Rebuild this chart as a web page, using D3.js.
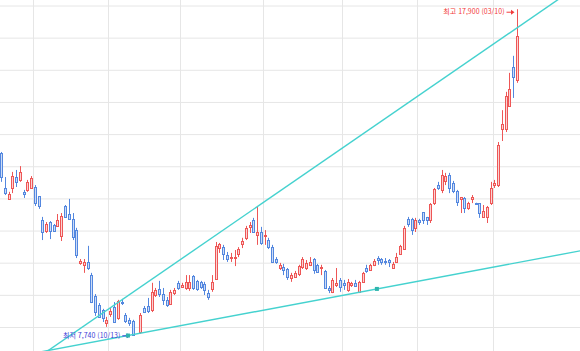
<!DOCTYPE html>
<html lang="ko">
<head>
<meta charset="UTF-8" />
<title>일봉 차트</title>
<script src="https://d3js.org/d3.v7.min.js"></script>
<style>
  body { margin: 0; background: #fff; overflow: hidden; }
  .grid line { stroke: #e6e6e6; stroke-width: 1; }
  .trend { fill: none; stroke: #45d2cf; stroke-width: 1.4; }
  .note { font-family: "Noto Sans CJK KR", "Noto Sans", sans-serif; font-size: 7px; }
</style>
</head>
<body>
<div id="chart"></div>
<script>
// daily OHLC, index 36 has no candle
const open = [13430,12340,12000,12340,12680,12590,12220,12280,12340,12370,12090,11350,11000,11280,11190,11160,10850,11780,11530,11380,
  11030,10010,9950,10040,9630,8980,8700,8550,8140,8420,8640,8300,8790,8390,8240,8200,null,7860,8610,8670,
  8550,9010,9200,9040,8860,8730,9070,9390,9260,9230,9230,9600,9450,9420,9350,9070,9200,9510,10470,10500,
  10260,10160,10160,10290,10600,10790,11130,11350,10880,10970,10850,10720,10500,10130,9850,9880,9820,9540,9570,9670,
  9880,9850,9950,10130,9950,9850,9760,9230,9110,9320,9480,9390,9170,9320,9390,9110,9420,9850,9790,9950,
  10160,10130,10070,10100,9850,10040,10290,10440,11380,11380,11100,11350,11590,11440,11350,11870,12430,12280,12560,12740,
  12500,12250,12000,12030,11720,12000,11870,11870,11440,11440,11870,12430,12430,14170,14170,14890,16100,15700];
const high = [13460,12680,12220,12840,12900,13020,12280,12590,12710,12430,12090,11440,11280,11310,11220,11530,11560,11810,12000,11560,
  11100,10130,10130,10540,9700,9040,8760,8580,8330,8610,8790,8860,8890,8450,8300,8240,null,8450,8670,8920,
  9390,9230,9450,9230,8950,9170,9230,9450,9390,9630,9630,9630,9480,9450,9420,9170,9630,10660,10630,10570,
  10350,10320,10410,10500,10790,11160,11280,11410,11760,11130,11030,10790,10570,10190,10010,9980,9850,9700,9760,9950,
  10190,10100,10190,10160,9980,9950,9790,9290,9540,9850,9540,9480,9510,9420,9480,9450,9730,9950,9980,10130,
  10220,10160,10160,10130,10040,10320,10570,11160,11440,11410,11410,11380,11590,11440,11870,12340,12530,12900,12810,12810,
  12560,12280,12060,12060,11910,12120,11880,11870,11810,11780,12530,12590,13770,14760,15330,15920,16450,17900];
const low = [12530,12120,11970,12180,12370,12530,12030,12220,12340,11780,11690,10720,10940,10750,10970,11130,10690,11410,11350,10720,
  10160,9950,9700,9790,8760,8360,8300,8170,8020,8330,8140,8240,8700,8140,8050,7740,null,7800,8450,8450,
  8480,8950,8950,8700,8640,8700,9010,9170,9230,9170,9140,9170,9140,9200,9010,8860,9110,9480,10320,10100,
  10040,10040,9910,10190,10470,10720,10940,10940,10570,10570,10570,10440,10010,9980,9790,9630,9480,9420,9540,9600,
  9820,9790,9910,9670,9700,9630,9200,9070,9070,9260,9110,9170,9110,9260,9260,9070,9390,9700,9760,9910,
  9950,9950,9950,9880,9850,10010,10260,10410,11130,10880,10970,11190,11220,11190,11250,11810,12280,12180,12430,12180,
  12180,11780,11560,11560,11660,11870,11850,11410,11410,11250,11810,12340,12370,13800,14080,14860,15140,15610];
const close = [12680,12180,12150,12710,12530,12840,12150,12530,12650,11870,11780,10970,11220,11000,11000,11350,11470,11440,11380,10820,
  10260,10070,10040,9850,8790,8480,8330,8300,8240,8520,8170,8830,8760,8200,8140,7770,null,8390,8480,8520,
  9110,9170,9040,8860,8700,9110,9170,9230,9320,9420,9420,9230,9200,9260,9170,8950,9420,10540,10600,10290,
  10130,10190,10190,10440,10690,11100,11190,10970,10970,10630,10880,10500,10040,10040,9950,9790,9570,9630,9700,9910,
  10130,10010,10040,9790,9730,9880,9230,9170,9480,9390,9260,9320,9420,9390,9290,9420,9700,9760,9950,10070,
  10100,10040,10040,10040,9980,10190,10540,11100,11220,11030,11350,11280,11350,11350,11840,12310,12340,12740,12710,12340,
  12250,11910,12060,11720,11870,12060,11860,11560,11630,11750,12340,12500,13680,14330,15200,15420,15790,17070];

const priceTicks = [8000, 9000, 10000, 11000, 12000, 13000, 14000, 15000, 16000, 17000, 18000];
const monthStarts = [9, 29, 48, 70, 91, 111, 131];

// trend lines: [candle index, price] anchors
const upperTrend = [[12.5, 7280], [137, 17320]];
const lowerTrend = [[33.7, 7750], [99.8, 9200]];

const highMark = { index: 137, price: 17900, label: "최고 17,900 (03/10)" };
const lowMark = { index: 35, price: 7740, label: "최저 7,740 (10/13)" };

const width = 580, height = 351;
const upColor = "#ee5656", downColor = "#5387df";

const svg = d3.select("#chart").append("svg")
  .attr("width", width).attr("height", height);

const x = d3.scaleLinear().domain([0, open.length - 1]).range([1, 517]);
const y = d3.scaleLinear().domain([8000, 18000]).range([327.5, 6]);

// grid
const grid = svg.append("g").attr("class", "grid");
grid.selectAll(".h").data(priceTicks).enter().append("line")
  .attr("x1", 0).attr("x2", width)
  .attr("y1", d => y(d)).attr("y2", d => y(d));
grid.selectAll(".v").data(monthStarts).enter().append("line")
  .attr("x1", d => Math.round(x(d - 0.5)) + 0.5).attr("x2", d => Math.round(x(d - 0.5)) + 0.5)
  .attr("y1", 0).attr("y2", height);

// candles
const candles = d3.range(open.length)
  .filter(i => open[i] != null)
  .map(i => ({ i, o: open[i], h: high[i], l: low[i], c: close[i] }));

const g = svg.append("g");
const cg = g.selectAll(".candle").data(candles).enter().append("g");

cg.append("line")
  .attr("x1", d => Math.round(x(d.i)) + 0.5)
  .attr("x2", d => Math.round(x(d.i)) + 0.5)
  .attr("y1", d => y(d.h))
  .attr("y2", d => y(d.l))
  .attr("stroke", d => d.c >= d.o ? upColor : downColor)
  .attr("stroke-width", 1);

cg.append("rect")
  .attr("x", d => Math.round(x(d.i)) - 0.5)
  .attr("width", 2)
  .attr("y", d => Math.round(y(Math.max(d.o, d.c))) + 0.5)
  .attr("height", d => Math.max(1, Math.round(Math.abs(y(d.o) - y(d.c)))))
  .attr("fill", d => d.c >= d.o ? "#fbd3d3" : "#cddcf6")
  .attr("stroke", d => d.c >= d.o ? upColor : downColor)
  .attr("stroke-width", 1);

// trend lines, drawn from the left through both anchors to past the right edge
function trendPath(a) {
  const slope = (a[1][1] - a[0][1]) / (a[1][0] - a[0][0]);
  const i0 = 8, i1 = 165;
  return [i0, i1].map(i => [x(i), y(a[0][1] + slope * (i - a[0][0]))]);
}
svg.append("path").attr("class", "trend").attr("d", d3.line()(trendPath(upperTrend)));
svg.append("path").attr("class", "trend").attr("d", d3.line()(trendPath(lowerTrend)));

// min/max notes
function note(m, color, dy) {
  const cx = x(m.index), cy = y(m.price) + dy;
  const tip = cx - 2.5;
  svg.append("text").attr("class", "note")
    .attr("x", tip - 10).attr("y", cy)
    .attr("dominant-baseline", "middle")
    .attr("text-anchor", "end")
    .attr("fill", color)
    .text(m.label);
  svg.append("line")
    .attr("x1", tip - 8).attr("x2", tip - 2)
    .attr("y1", cy).attr("y2", cy)
    .attr("stroke", color).attr("stroke-width", 1);
  svg.append("path")
    .attr("d", `M${tip},${cy}L${tip - 3.5},${cy - 2.5}L${tip - 3.5},${cy + 2.5}Z`)
    .attr("fill", color);
}
note(highMark, "#f23a3a", 3);
note(lowMark, "#3d3dd6", 0);

// anchor handles on the lower trend line
svg.selectAll(".handle").data(lowerTrend).enter().append("rect")
  .attr("x", d => x(d[0]) - 2).attr("y", d => y(d[1]) - 2)
  .attr("width", 4).attr("height", 4)
  .attr("fill", "#2fb5ad");
</script>
</body>
</html>
